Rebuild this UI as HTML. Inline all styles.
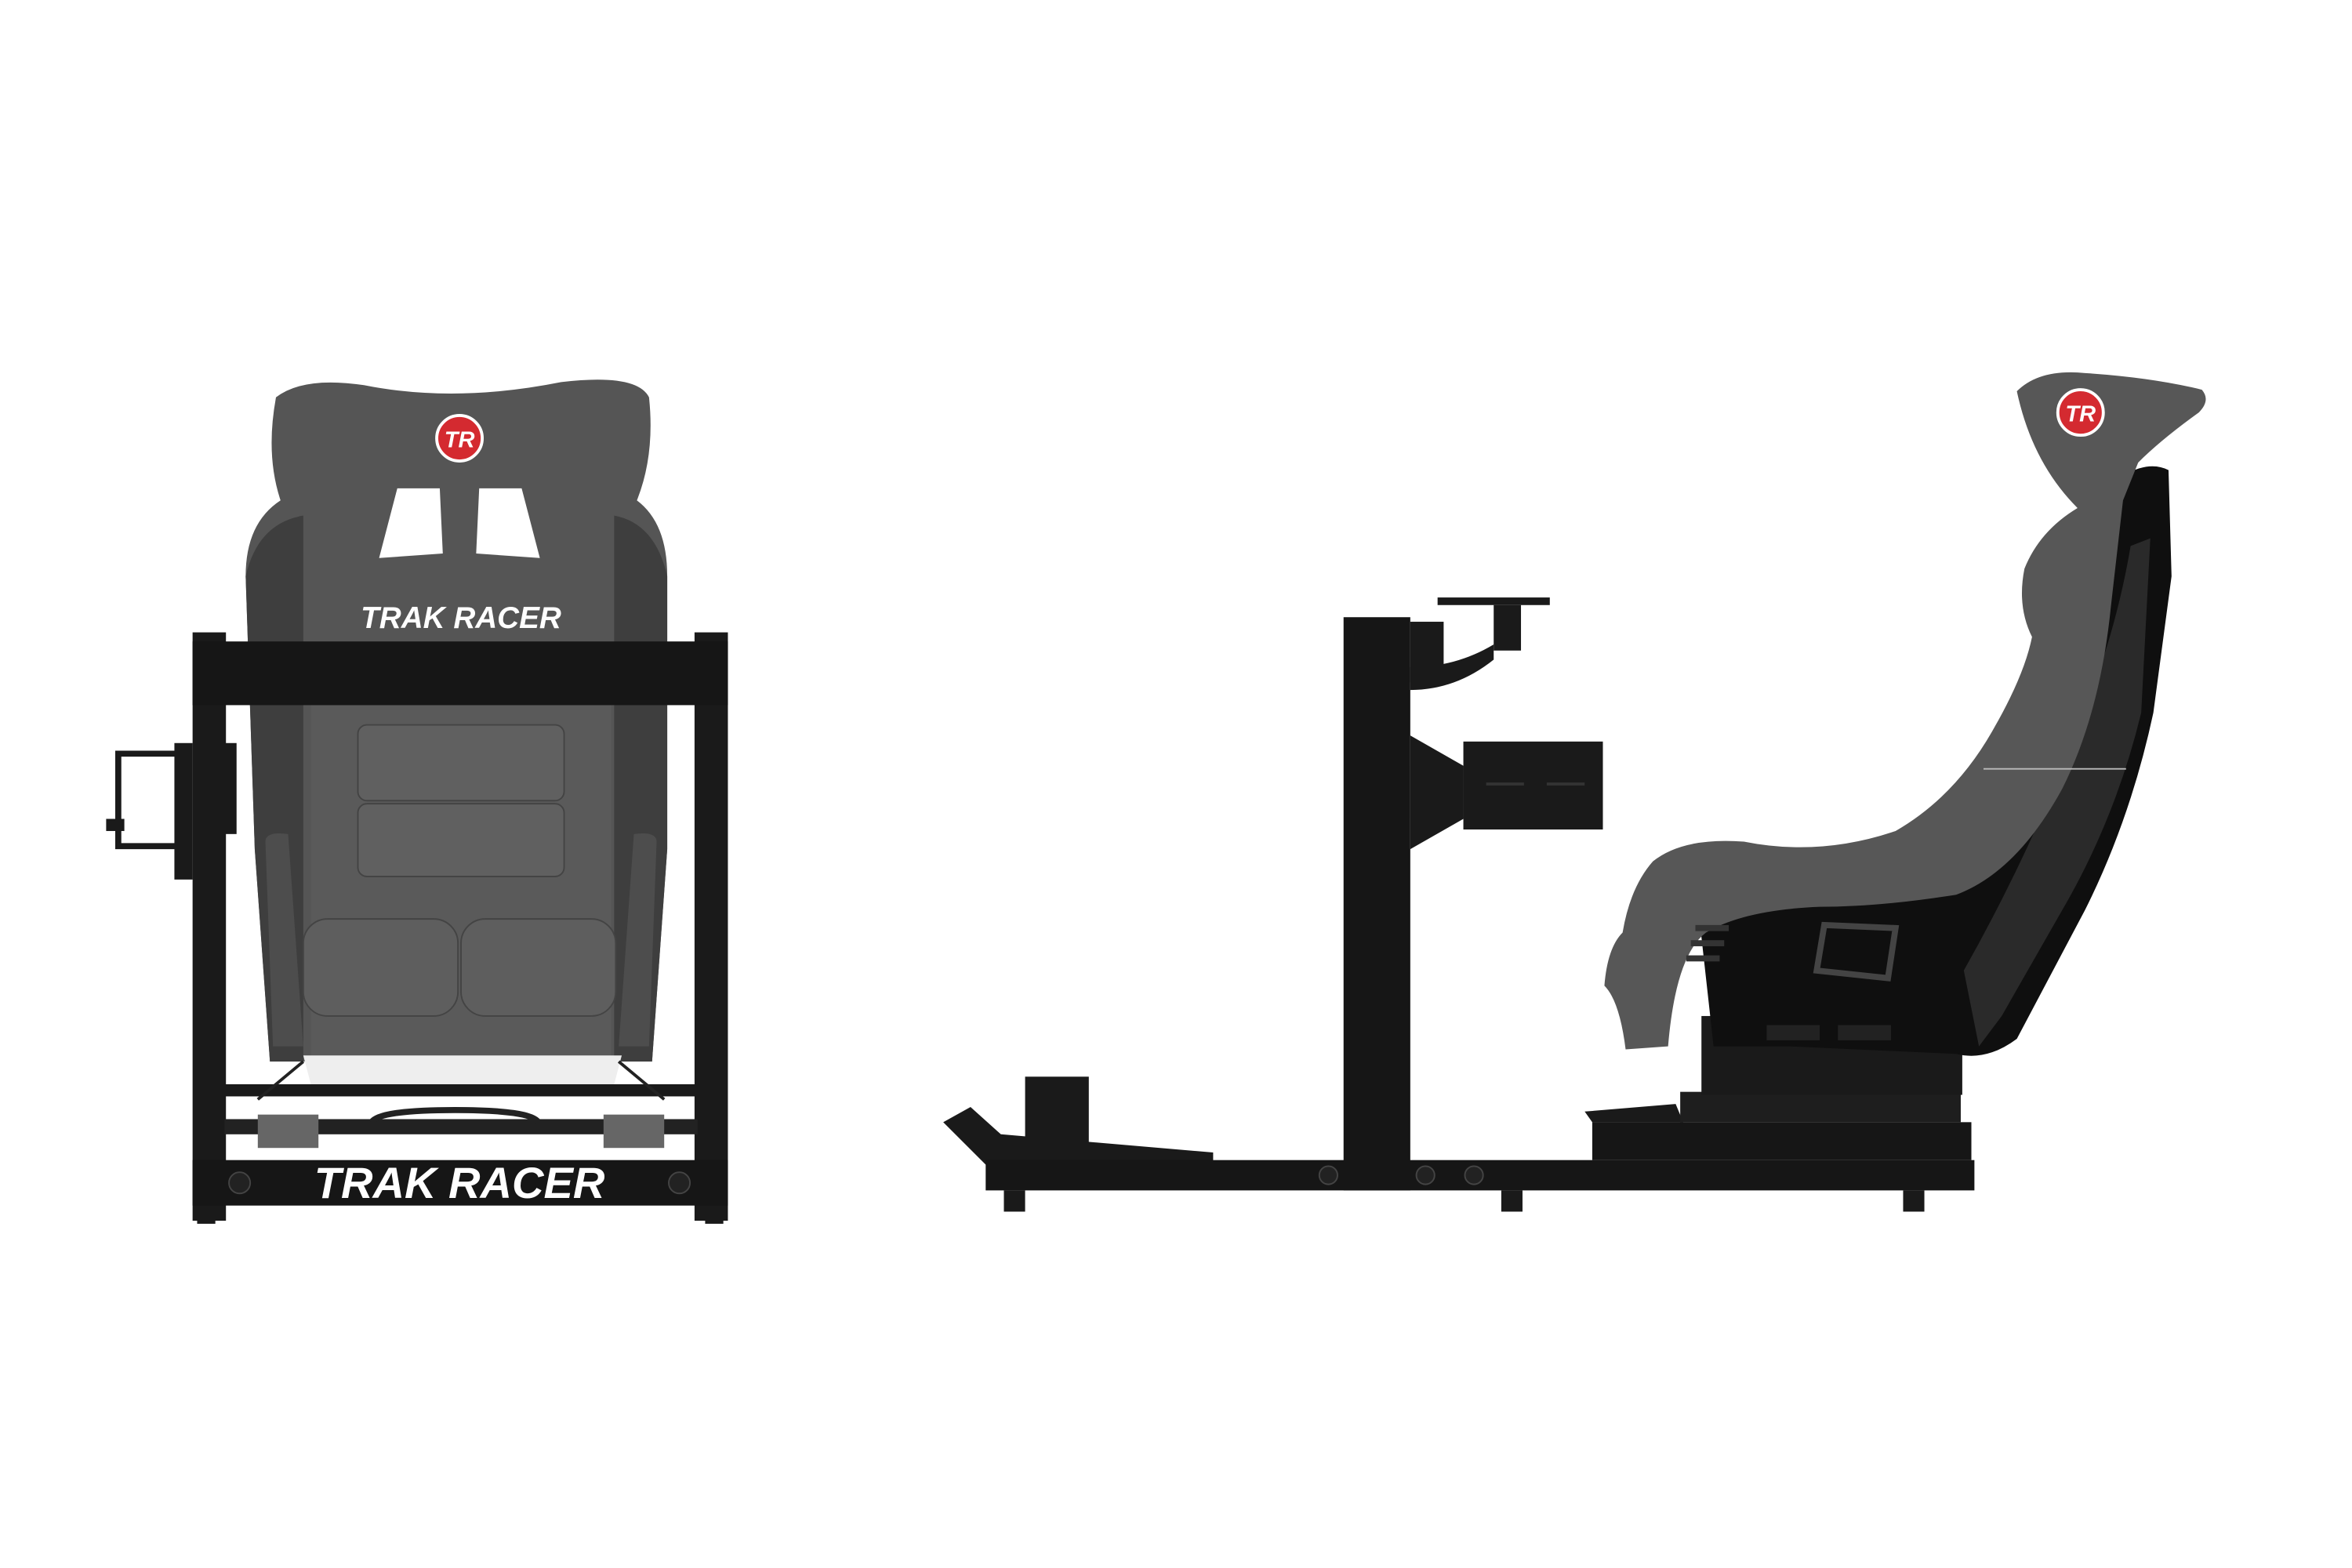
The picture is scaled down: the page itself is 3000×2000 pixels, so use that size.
<!DOCTYPE html>
<html><head><meta charset="utf-8"><style>
html,body{margin:0;padding:0;background:#fff;width:3000px;height:2000px;overflow:hidden}
svg{display:block}
</style></head><body>
<svg width="3000" height="2000" viewBox="0 0 1551 1034" xmlns="http://www.w3.org/2000/svg">
<rect width="1551" height="1034" fill="#fff"/>
<!-- FRONT VIEW -->
<path d="M182,262 Q200,248 240,254 Q300,266 370,252 Q420,246 428,262 Q432,300 420,330 Q440,345 440,380 L440,560 L430,700 L178,700 L168,560 L162,380 Q162,345 185,330 Q175,300 182,262 Z" fill="#555"/>
<path d="M162,380 Q170,345 200,340 L200,700 L178,700 L168,560 Z" fill="#3e3e3e"/>
<path d="M440,380 Q432,345 405,340 L405,700 L430,700 L440,560 Z" fill="#3e3e3e"/>
<path d="M262,322 L290,322 L292,365 L250,368 Z" fill="#fff"/>
<path d="M316,322 L344,322 L356,368 L314,365 Z" fill="#fff"/>
<circle cx="303" cy="289" r="15" fill="#d42a30" stroke="#fff" stroke-width="2"/>
<text x="303" y="295" font-family="Liberation Sans,sans-serif" font-weight="bold" font-style="italic" font-size="15" fill="#fff" text-anchor="middle">TR</text>
<text x="304" y="414" font-family="Liberation Sans,sans-serif" font-weight="bold" font-style="italic" font-size="20" fill="#fff" text-anchor="middle">TRAK RACER</text>
<rect x="205" y="465" width="198" height="235" fill="#5a5a5a"/>
<rect x="236" y="478" width="136" height="50" rx="6" fill="#606060" stroke="#444"/>
<rect x="236" y="530" width="136" height="48" rx="6" fill="#606060" stroke="#444"/>
<path d="M175,555 Q175,548 190,550 L200,690 L180,690 Z" fill="#4d4d4d"/>
<path d="M433,555 Q433,548 418,550 L408,690 L428,690 Z" fill="#4d4d4d"/>
<rect x="200" y="606" width="102" height="64" rx="16" fill="#5e5e5e" stroke="#444"/>
<rect x="304" y="606" width="102" height="64" rx="16" fill="#5e5e5e" stroke="#444"/>
<path d="M200,696 L410,696 L405,715 L205,715 Z" fill="#eee"/>
<rect x="127" y="417" width="22" height="388" fill="#1a1a1a"/>
<rect x="458" y="417" width="22" height="388" fill="#1a1a1a"/>
<rect x="127" y="423" width="353" height="42" fill="#161616"/>
<rect x="148" y="715" width="312" height="8" fill="#1a1a1a"/>
<rect x="148" y="738" width="312" height="10" fill="#222"/>
<path d="M245,740 Q250,732 300,732 Q350,732 355,740" stroke="#222" stroke-width="4" fill="none"/>
<rect x="170" y="735" width="40" height="22" fill="#666"/>
<rect x="398" y="735" width="40" height="22" fill="#666"/>
<line x1="170" y1="725" x2="200" y2="700" stroke="#222" stroke-width="2"/>
<line x1="438" y1="725" x2="408" y2="700" stroke="#222" stroke-width="2"/>
<rect x="127" y="765" width="353" height="30" fill="#161616"/>
<text x="303" y="790" font-family="Liberation Sans,sans-serif" font-weight="bold" font-style="italic" font-size="29" fill="#fff" text-anchor="middle">TRAK RACER</text>
<rect x="130" y="795" width="12" height="12" fill="#1a1a1a"/>
<rect x="465" y="795" width="12" height="12" fill="#1a1a1a"/>
<circle cx="158" cy="780" r="7" fill="#222" stroke="#444"/>
<circle cx="448" cy="780" r="7" fill="#222" stroke="#444"/>
<path d="M120,497 L78,497 L78,558 L120,558" stroke="#1a1a1a" stroke-width="4" fill="none"/>
<rect x="70" y="540" width="12" height="8" fill="#1a1a1a"/>
<rect x="115" y="490" width="12" height="90" fill="#1a1a1a"/>
<rect x="148" y="490" width="8" height="60" fill="#1a1a1a"/>
<!-- SIDE VIEW -->
<path d="M622,740 L640,730 L660,748 L800,760 L800,768 L650,768 Z" fill="#1a1a1a"/>
<rect x="676" y="710" width="42" height="55" fill="#1a1a1a"/>
<rect x="650" y="765" width="652" height="20" fill="#161616"/>
<rect x="662" y="785" width="14" height="14" fill="#1a1a1a"/>
<rect x="990" y="785" width="14" height="14" fill="#1a1a1a"/>
<rect x="1255" y="785" width="14" height="14" fill="#1a1a1a"/>
<circle cx="876" cy="775" r="6" fill="#222" stroke="#444"/>
<circle cx="940" cy="775" r="6" fill="#222" stroke="#444"/>
<circle cx="972" cy="775" r="6" fill="#222" stroke="#444"/>
<rect x="886" y="407" width="44" height="378" fill="#161616"/>
<rect x="930" y="410" width="22" height="40" fill="#1a1a1a"/>
<rect x="948" y="394" width="74" height="5" fill="#1a1a1a"/>
<rect x="985" y="399" width="18" height="30" fill="#1a1a1a"/>
<path d="M930,440 Q960,440 985,425 L985,435 Q960,455 930,455 Z" fill="#1a1a1a"/>
<path d="M930,485 L965,505 L965,540 L930,560 Z" fill="#1a1a1a"/>
<rect x="965" y="489" width="92" height="58" fill="#1a1a1a"/>
<line x1="980" y1="517" x2="1005" y2="517" stroke="#333" stroke-width="2"/>
<line x1="1020" y1="517" x2="1045" y2="517" stroke="#333" stroke-width="2"/>
<path d="M1045,733 L1105,728 L1110,740 L1050,740 Z" fill="#1a1a1a"/>
<rect x="1050" y="740" width="250" height="25" fill="#161616"/>
<rect x="1108" y="720" width="185" height="20" fill="#1e1e1e"/>
<rect x="1122" y="670" width="172" height="52" fill="#1a1a1a"/>
<!-- seat shell -->
<path d="M1380,330 Q1410,300 1430,310 L1432,380 L1420,470 Q1405,540 1375,600 L1330,685 Q1310,700 1290,695 L1180,690 L1130,690 L1120,600 L1250,585 Q1300,560 1340,470 Z" fill="#0f0f0f"/>
<path d="M1405,360 L1418,355 L1412,470 Q1395,540 1360,600 L1320,670 L1305,690 L1295,640 Q1340,560 1370,480 Q1395,420 1405,360 Z" fill="#2a2a2a"/>
<!-- fabric -->
<path d="M1330,258 Q1345,243 1375,246 Q1420,249 1452,257 Q1458,264 1450,272 Q1425,290 1410,305 L1400,330 L1392,400 Q1385,470 1360,520 Q1330,575 1290,590 Q1240,598 1200,598 Q1150,600 1125,615 Q1105,630 1100,690 L1072,692 Q1068,660 1058,650 Q1060,625 1070,615 Q1075,585 1090,568 Q1110,552 1150,555 Q1200,565 1250,548 Q1290,525 1315,480 Q1335,445 1340,420 Q1330,400 1335,375 Q1345,350 1370,335 Q1340,305 1330,258 Z" fill="#575757"/>
<circle cx="1372" cy="272" r="15" fill="#d42a30" stroke="#fff" stroke-width="2"/>
<text x="1372" y="278" font-family="Liberation Sans,sans-serif" font-weight="bold" font-style="italic" font-size="15" fill="#fff" text-anchor="middle">TR</text>
<rect x="1118" y="610" width="22" height="4" fill="#333"/>
<rect x="1115" y="620" width="22" height="4" fill="#333"/>
<rect x="1112" y="630" width="22" height="4" fill="#333"/>
<path d="M1203,610 L1250,612 L1245,645 L1198,640 Z" fill="none" stroke="#444" stroke-width="4"/>
<rect x="1165" y="676" width="35" height="10" fill="#222"/>
<rect x="1212" y="676" width="35" height="10" fill="#222"/>
<line x1="1308" y1="507" x2="1402" y2="507" stroke="#bbb" stroke-width="1"/>
</svg>
</body></html>
